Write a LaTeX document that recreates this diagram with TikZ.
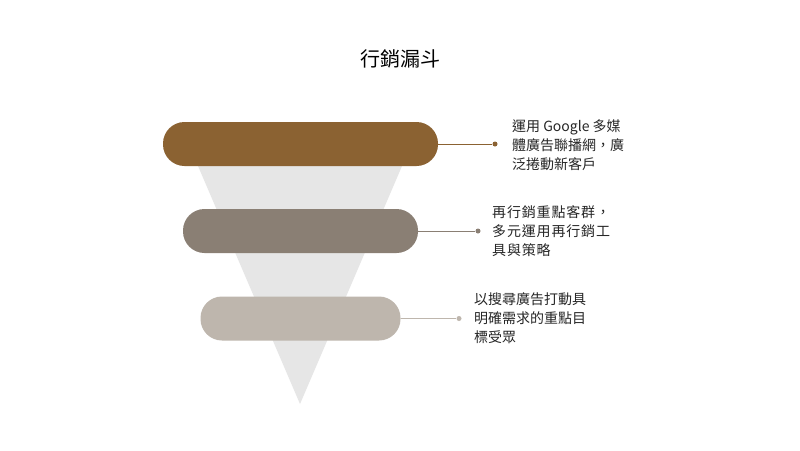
\documentclass[tikz,border=0pt]{standalone}
\usepackage{fontspec}
\setmainfont{Noto Sans CJK TC}
\usetikzlibrary{positioning}
\definecolor{tierA}{HTML}{8B6232}
\definecolor{tierB}{HTML}{8A7F74}
\definecolor{tierC}{HTML}{BEB6AD}
\definecolor{funnelgray}{HTML}{E6E6E6}
\tikzset{
  tier/.style={rounded corners=21.5pt,minimum height=44pt,inner sep=0pt},
  pin/.style={circle,inner sep=0pt,minimum size=5pt},
  note/.style={anchor=west,align=left,inner sep=0pt,font=\fontsize{14pt}{19pt}\selectfont,text=black!85},
}
\begin{document}
\begin{tikzpicture}[x=1pt,y=-1pt]
\useasboundingbox[fill=white] (0,0) rectangle (800,450);

%Titulo
\node[font=\fontsize{20pt}{24pt}\selectfont] (title) at (400,59) {行銷漏斗};

%Embudo
\fill[funnelgray] (189,145) -- (411,145) -- (300,404) -- cycle;

%Niveles
\foreach \n/\col/\w/\yc/\xd in {1/tierA/275/144/495, 2/tierB/235/231/478, 3/tierC/200/318.5/459}{
    \node[tier,fill=\col,minimum width=\w pt] (bar\n) at (300.5,\yc) {};
    \node[pin,fill=\col] (dot\n) at (\xd,\yc) {};
    \draw[\col,line width=1pt] (bar\n.east) -- (dot\n);
}

%Textos
\node[note] (txt1) at (512,145) {運用 Google 多媒\\體廣告聯播網，廣\\泛捲動新客戶};
\node[note,font=\fontsize{14pt}{19pt}\selectfont\addfontfeature{LetterSpace=6}] (txt2) at (492,231) {再行銷重點客群，\\多元運用再行銷工\\具與策略};
\node[note] (txt3) at (474,318) {以搜尋廣告打動具\\明確需求的重點目\\標受眾};
\end{tikzpicture}
\end{document}
